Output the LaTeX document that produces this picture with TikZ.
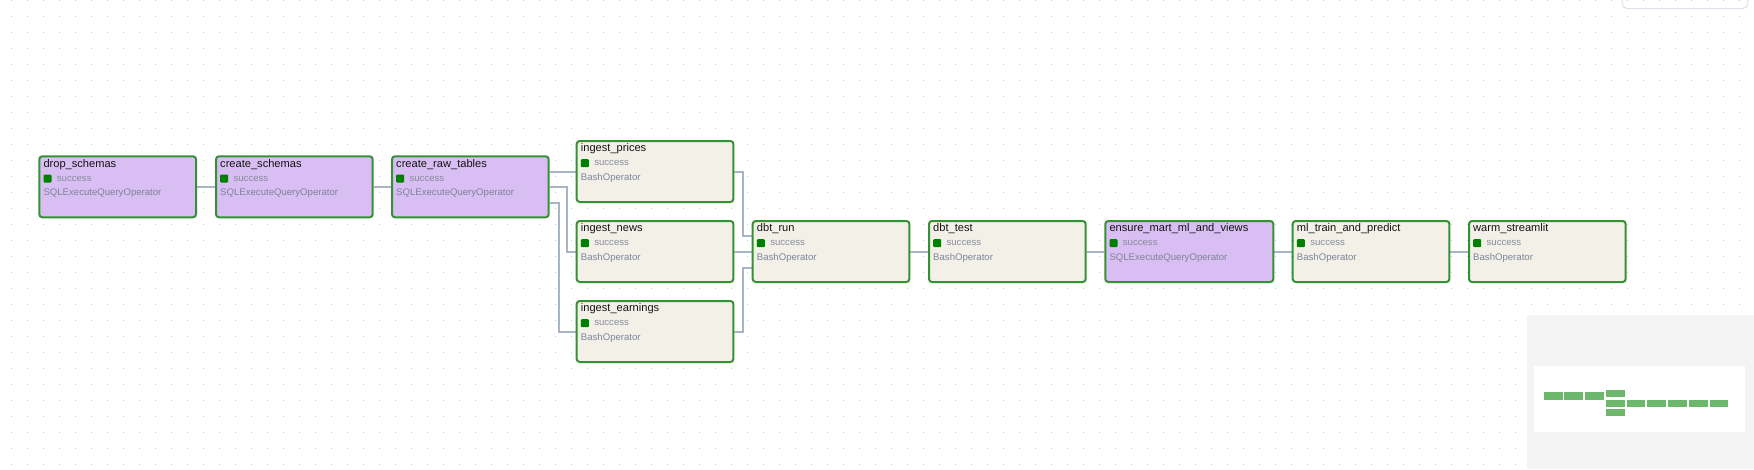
\documentclass[tikz,border=0pt]{standalone}
\usepackage{fontspec}
\setmainfont{Liberation Sans}
\usetikzlibrary{calc,backgrounds}
\definecolor{sqlfill}{RGB}{216,190,242}
\definecolor{bashfill}{RGB}{243,240,232}
\definecolor{okgreen}{RGB}{0,128,0}
\definecolor{boxborder}{RGB}{52,145,52}
\definecolor{edgecol}{RGB}{168,180,198}
\definecolor{dotcol}{RGB}{200,200,200}
\definecolor{cSucc}{RGB}{135,140,155}
\definecolor{cOp}{RGB}{125,132,152}
\definecolor{mapbg}{RGB}{244,244,244}
\definecolor{mapbar}{RGB}{109,183,109}
\definecolor{panelborder}{RGB}{221,226,234}
\tikzset{
  taskbox/.style={draw=boxborder, line width=2pt, rounded corners=3pt, inner sep=0pt,
    minimum height=61pt, anchor=north west},
  titletext/.style={anchor=base west, inner sep=0pt, font=\fontsize{11.1}{13}\selectfont, text=black!92},
  succstyle/.style={anchor=base west, inner sep=0pt, font=\fontsize{9.6}{11}\selectfont, text=cSucc},
  opstyle/.style={anchor=base west, inner sep=0pt, font=\fontsize{9.6}{11}\selectfont, text=cOp},
  statusbox/.style={fill=okgreen, inner sep=0pt, minimum size=8pt, anchor=north west, rounded corners=1pt},
  edge/.style={draw=edgecol, line width=2pt},
  mapbarstyle/.style={fill=mapbar},
}
% #1 name, #2 x, #3 y (path top-left), #4 inner width, #5 fill, #6 title, #7 operator
\newcommand{\dagtask}[7]{%
  \node[taskbox, fill=#5, minimum width=#4pt] (#1) at (#2,#3) {};
  \node[titletext] (#1-title) at ($(#1.north west)+(5,11.7)$) {#6};
  \node[statusbox] (#1-dot) at ($(#1.north west)+(5,19)$) {};
  \node[succstyle] (#1-state) at ($(#1.north west)+(18.4,25.8)$) {success};
  \node[opstyle] (#1-op) at ($(#1.north west)+(5,40.5)$) {#7};
}
\begin{document}
\begin{tikzpicture}[x=1pt,y=-1pt]
\useasboundingbox (0,0) rectangle (1754,469);

\dagtask{drop}{38.3}{155.3}{156.7}{sqlfill}{drop\_schemas}{SQLExecuteQueryOperator}
\dagtask{cschemas}{215}{155.3}{156.7}{sqlfill}{create\_schemas}{SQLExecuteQueryOperator}
\dagtask{crt}{391}{155.3}{156.7}{sqlfill}{create\_raw\_tables}{SQLExecuteQueryOperator}
\dagtask{iprices}{575.7}{140}{156.7}{bashfill}{ingest\_prices}{BashOperator}
\dagtask{inews}{575.7}{220}{156.7}{bashfill}{ingest\_news}{BashOperator}
\dagtask{iearn}{575.7}{300}{156.7}{bashfill}{ingest\_earnings}{BashOperator}
\dagtask{dbtrun}{751.7}{220}{156.7}{bashfill}{dbt\_run}{BashOperator}
\dagtask{dbttest}{928}{220}{156.7}{bashfill}{dbt\_test}{BashOperator}
\dagtask{ensure}{1104.3}{220}{168}{sqlfill}{ensure\_mart\_ml\_and\_views}{SQLExecuteQueryOperator}
\dagtask{mltrain}{1291.7}{220}{156.7}{bashfill}{ml\_train\_and\_predict}{BashOperator}
\dagtask{warm}{1468}{220}{156.7}{bashfill}{warm\_streamlit}{BashOperator}

\begin{pgfonlayer}{background}
  \fill[white] (0,0) rectangle (1754,469);
  \foreach \i in {0,...,109}{\foreach \j in {0,...,29}{%
    \fill[dotcol] ({11+16*\i},{16*\j}) rectangle ++(1,1);}}
  \draw[edge] (drop.east) -- (cschemas.west);
  \draw[edge] (cschemas.east) -- (crt.west);
  \draw[edge] (crt.east |- iprices.west) -- (iprices.west);
  \draw[edge] (crt.east) -- ++(17,0) |- (inews.west);
  \draw[edge] ($(crt.east)+(0,16)$) -- ++(9,0) |- (iearn.west);
  \draw[edge] (iprices.east) -- ++(9,0) |- ($(dbtrun.west)+(0,-16)$);
  \draw[edge] (inews.east) -- (dbtrun.west);
  \draw[edge] (iearn.east) -- ++(9,0) |- ($(dbtrun.west)+(0,16)$);
  \draw[edge] (dbtrun.east) -- (dbttest.west);
  \draw[edge] (dbttest.east) -- (ensure.west);
  \draw[edge] (ensure.east) -- (mltrain.west);
  \draw[edge] (mltrain.east) -- (warm.west);
\end{pgfonlayer}

% top-right panel
\draw[panelborder, line width=1pt, rounded corners=5pt] (1622.2,-10) rectangle (1747.8,8.5);

% minimap
\fill[mapbg] (1526.7,315) rectangle (1754,469);
\fill[white] (1534,366) rectangle (1745,432);
\fill[mapbarstyle] (1544,392) rectangle (1563,399.7);
\fill[mapbarstyle] (1564,392) rectangle (1583,399.7);
\fill[mapbarstyle] (1585,392) rectangle (1604,399.7);
\fill[mapbarstyle] (1606,390) rectangle (1625,397.3);
\fill[mapbarstyle] (1606,400) rectangle (1625,406.7);
\fill[mapbarstyle] (1606,409) rectangle (1625,415.7);
\fill[mapbarstyle] (1627,400) rectangle (1645,406.7);
\fill[mapbarstyle] (1647,400) rectangle (1666,406.7);
\fill[mapbarstyle] (1668,400) rectangle (1687,406.7);
\fill[mapbarstyle] (1689,400) rectangle (1708,406.7);
\fill[mapbarstyle] (1710,400) rectangle (1728,406.7);
\end{tikzpicture}
\end{document}
